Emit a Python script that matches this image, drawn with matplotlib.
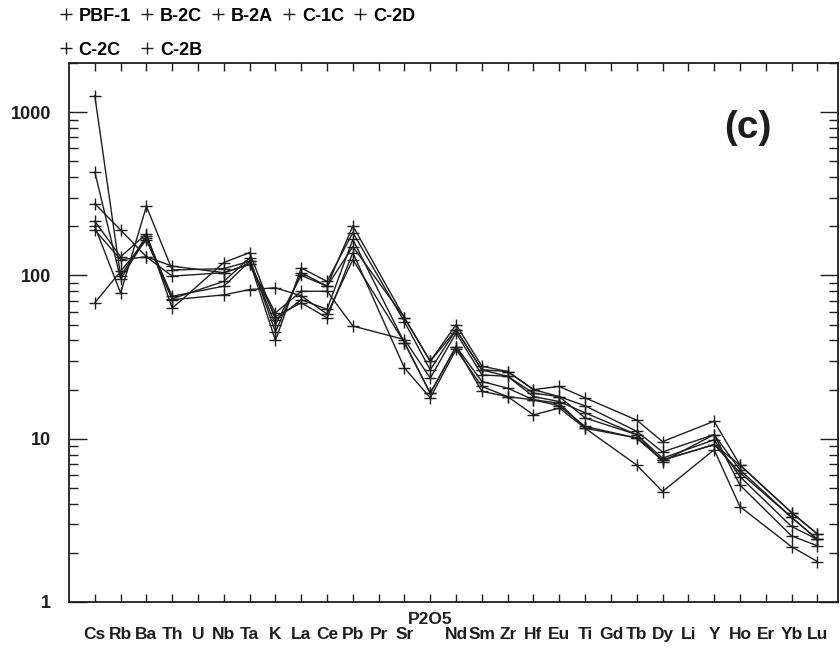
import numpy as np
import matplotlib
matplotlib.use("Agg")
import matplotlib.pyplot as plt
from matplotlib.lines import Line2D
from matplotlib.ticker import LogLocator, NullFormatter

plt.rcParams['font.family'] = ['Liberation Sans', 'DejaVu Sans']

# element order along the x axis
elements = ['Cs', 'Rb', 'Ba', 'Th', 'U', 'Nb', 'Ta', 'K', 'La', 'Ce', 'Pb', 'Pr', 'Sr', 'P2O5',
            'Nd', 'Sm', 'Zr', 'Hf', 'Eu', 'Ti', 'Gd', 'Tb', 'Dy', 'Li', 'Y', 'Ho', 'Er', 'Yb', 'Lu']
samples = ['PBF-1', 'B-2C', 'B-2A', 'C-1C', 'C-2D', 'C-2C', 'C-2B']

nan = np.nan
# normalized values (nan = not analysed: U, Pr, Gd, Li, Er)
#        Cs    Rb   Ba   Th    U    Nb   Ta   K     La   Ce   Pb   Pr   Sr    P2O5  Nd    Sm    Zr    Hf    Eu    Ti    Gd   Tb    Dy    Li   Y     Ho    Er   Yb    Lu
pbf_1 = [1260, 99, 175, 72, nan, 92, 128, 45, 104, 86, 201, nan, 55, 29.8, 50, 27.8, 25.8, 20.0, 20.9, 17.8, nan, 13.0, 9.6, nan, 12.8, 6.9, nan, 3.53, 2.61]
b_2c = [430, 95, 170, 74.5, nan, 86, 122, 40, 111, 92, 183, nan, 52, 26.4, 46.5, 26.4, 24.1, 19.0, 18.1, 15.9, nan, 11.1, 8.3, nan, 10.6, 6.45, nan, 3.3, 2.42]
b_2a = [275, 190, 130, 114, nan, 104, 117, 59, 80, 80, 49, nan, 40.5, 23.5, 44.5, 24.6, 24.1, 18.1, 16.9, 14.4, nan, 10.6, 7.6, nan, 9.85, 5.86, nan, 2.9, 2.42]
c_1c = [215, 130, 180, 63, nan, 120, 138, 53.6, 71, 62, 166, nan, 38.7, 19.0, 36.7, 22.4, 20.4, 17.3, 15.9, 11.9, nan, 10.1, 7.4, nan, 9.2, 6.9, nan, 3.53, 2.61]
c_2d = [200, 78, 265, 108, nan, 110, 122, 50, 100, 86, 150, nan, 55, 29.8, 46.5, 26.4, 25.8, 20.0, 18.1, 13.4, nan, 10.6, 7.25, nan, 10.6, 5.2, nan, 2.54, 2.21]
c_2c = [190, 125, 130, 99, nan, 104, 117, 56, 68, 55, 138, nan, 27.1, 17.8, 35.2, 20.9, 18.1, 14.0, 15.4, 11.6, nan, 6.9, 4.75, nan, 8.56, 3.84, nan, 2.18, 1.77]
c_2b = [68, 106, 165, 71, nan, 76, 82, 84, 75, 58, 125, nan, 38.7, 19.0, 36.7, 19.5, 18.1, 17.3, 16.5, 11.6, nan, 10.1, 7.4, nan, 9.2, 6.2, nan, 3.3, 2.42]
series = [pbf_1, b_2c, b_2a, c_1c, c_2d, c_2c, c_2b]

ink = '#1e1e1e'

fig = plt.figure(figsize=(8.4, 6.5), dpi=100)
ax = fig.add_axes([69 / 840, 48 / 650, 769 / 840, 539 / 650])

x = np.arange(1, len(elements) + 1)
for vals in series:
    v = np.array(vals, dtype=float)
    ok = ~np.isnan(v)  # gaps are simply skipped, line joins the neighbours
    ax.plot(x[ok], v[ok], color=ink, lw=1.0, marker='+', ms=9, mew=1.0)

ax.set_yscale('log')
ax.set_xlim(0, 29.8)
ax.set_ylim(1, 2000)

ax.set_xticks(x)
ax.set_xticklabels(elements, fontsize=12.5, fontweight='bold', color=ink)
ax.set_yticks([1, 10, 100, 1000])
ax.set_yticklabels(['1', '10', '100', '1000'], fontsize=13, fontweight='bold', color=ink)
ax.yaxis.set_minor_locator(LogLocator(base=10, subs=np.arange(2, 10)))
ax.yaxis.set_minor_formatter(NullFormatter())

ax.tick_params(axis='x', which='major', direction='in', top=True, length=6, width=1.0,
               pad=18, colors=ink)
ax.tick_params(axis='y', which='major', direction='in', right=True, length=13, width=1.0,
               pad=13, colors=ink)
ax.tick_params(axis='y', which='minor', direction='in', right=True, length=6.5, width=1.0,
               colors=ink)
# P2O5 label sits higher than the others
ax.xaxis.get_major_ticks()[elements.index('P2O5')].set_pad(7)

for s in ax.spines.values():
    s.set_linewidth(1.3)
    s.set_color(ink)

ax.text(0.883, 0.879, '(c)', transform=ax.transAxes, fontsize=28, fontweight='bold',
        ha='center', va='center', color=ink)

# legend: two rows, filled row-wise
handles = [Line2D([], [], ls='none', marker='+', ms=8, mew=1.0, color=ink) for _ in samples]
order = [0, 5, 1, 6, 2, 3, 4]
fig.legend([handles[i] for i in order], [samples[i] for i in order], ncol=5,
           loc='upper left', bbox_to_anchor=(57 / 840, 1 - 4 / 650), frameon=False,
           prop={'size': 13, 'weight': 'bold'}, handlelength=0.6, handletextpad=0.4,
           columnspacing=0.6, labelspacing=0.95, borderpad=0.2, borderaxespad=0)

fig.savefig('out.png', dpi=100)
